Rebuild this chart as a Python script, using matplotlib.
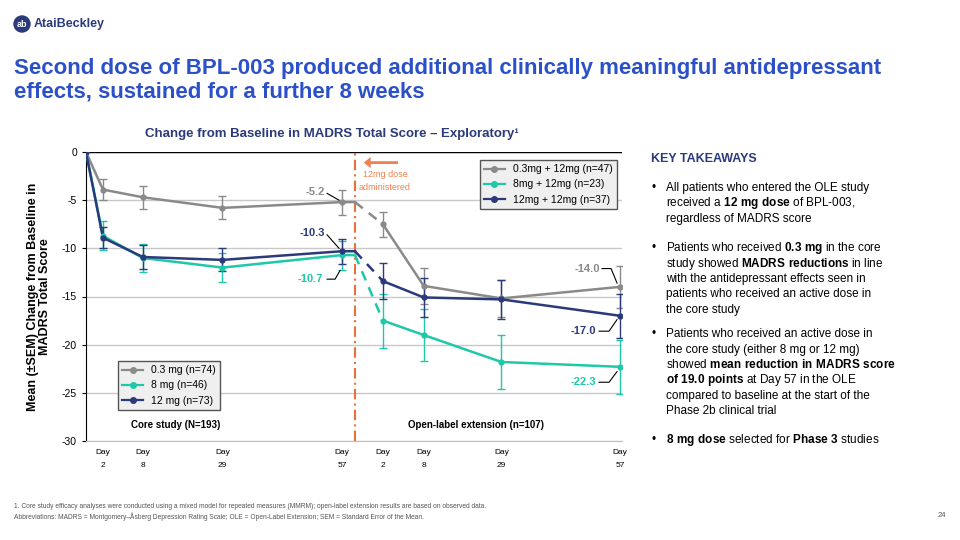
import matplotlib
matplotlib.use("Agg")
import matplotlib.pyplot as plt
from matplotlib.lines import Line2D
from matplotlib.patches import Ellipse

plt.rcParams["font.family"] = ["Liberation Sans", "DejaVu Sans"]
plt.rcParams["axes.unicode_minus"] = False
plt.rcParams["mathtext.fontset"] = "custom"
plt.rcParams["mathtext.rm"] = "Liberation Sans"
plt.rcParams["mathtext.bf"] = "Liberation Sans:bold"

# x positions of visits (core: baseline, D2, D8, D29, D57; OLE: D2, D8, D29, D57)
X_CORE = [86, 103, 143, 223, 343]
X_OLE = [384, 425, 503, 622]
X_SWITCH = 356
TICK_DAYS = ["2", "8", "29", "57", "2", "8", "29", "57"]

GRAY, TEAL, NAVY = "#8a8a8a", "#1ec8a8", "#2b3a7a"

core_03 = [0, -3.9, -4.7, -5.8, -5.2]
core_8 = [0, -8.7, -11.0, -12.0, -10.7]
core_12 = [0, -8.9, -10.9, -11.2, -10.3]
err_core_03 = [0, 1.1, 1.2, 1.2, 1.3]
err_core_8 = [0, 1.5, 1.5, 1.5, 1.5]
err_core_12 = [0, 1.1, 1.2, 1.2, 1.3]

ole_03 = [-7.5, -13.9, -15.2, -14.0]
ole_8 = [-17.5, -19.0, -21.8, -22.3]
ole_12 = [-13.4, -15.1, -15.3, -17.0]
err_ole_03 = [1.3, 1.9, 1.9, 2.2]
err_ole_8 = [2.8, 2.7, 2.8, 2.8]
err_ole_12 = [1.9, 2.0, 2.0, 2.3]

W, H = 960, 540
fig = plt.figure(figsize=(9.6, 5.4), dpi=100)
ax = fig.add_axes([86 / W, (H - 441) / H, (622 - 86) / W, (441 - 152) / H])

for core, ole, ec, eo, col in [(core_03, ole_03, err_core_03, err_ole_03, GRAY),
                               (core_8, ole_8, err_core_8, err_ole_8, TEAL),
                               (core_12, ole_12, err_core_12, err_ole_12, NAVY)]:
    ax.plot(X_CORE + [X_SWITCH], core + [core[-1]], color=col, lw=1.8, zorder=3)
    ax.plot(X_CORE, core, "o", color=col, ms=3.5, zorder=4)
    ax.errorbar(X_CORE[1:], core[1:], yerr=ec[1:], fmt="none", ecolor=col,
                capsize=3, lw=1, zorder=3)
    ax.plot([X_SWITCH, X_OLE[0]], [core[-1], ole[0]], color=col, lw=1.8, ls=(0, (4, 3)), zorder=3)
    ax.plot(X_OLE, ole, "o-", color=col, lw=1.8, ms=3.5, zorder=4)
    ax.errorbar(X_OLE, ole, yerr=eo, fmt="none", ecolor=col, capsize=3, lw=1, zorder=3)

ax.axvline(X_SWITCH, color="#e8703a", ls=(0, (5, 2, 1, 2)), lw=1.5)
ax.annotate("", xy=(362, -1.1), xytext=(402, -1.1),
            arrowprops=dict(arrowstyle="simple,head_width=0.8,head_length=0.5",
                            color="#f08050", lw=0))
ax.text(386, -3.0, "12mg dose\nadministered", color="#f08050", fontsize=6.5,
        ha="center", va="center", linespacing=1.5)

ax.set_xlim(86, 624)
ax.set_ylim(-30, 0)
ax.set_yticks(range(-30, 1, 5))
ax.yaxis.grid(True, color="#c8c8c8", lw=1)
ax.set_axisbelow(True)
for s in ["top", "right"]:
    ax.spines[s].set_visible(False)
ax.spines["bottom"].set_color("#c0c0c0")
ax.tick_params(axis="y", labelsize=7.5, length=3)
ax.set_xticks(X_CORE[1:] + X_OLE)
ax.set_xticklabels(["Day\n" + d for d in TICK_DAYS], fontsize=6, linespacing=2.2)
ax.tick_params(axis="x", length=0, pad=6)
ax.axhline(0, color="black", lw=1)
ax.set_ylabel("Mean (±SEM) Change from Baseline in\nMADRS Total Score", fontsize=9,
              fontweight="bold", labelpad=8, linespacing=1.0)


def lab(txt, col, tx, ty, pts):
    ax.text(tx, ty, txt, color=col, fontsize=8, fontweight="bold", ha="right", va="center")
    ax.plot([p[0] for p in pts], [p[1] for p in pts], color="black", lw=0.8, zorder=5)


lab("-5.2", GRAY, 326, -4.2, [(328, -4.3), (340, -5.0)])
lab("-10.3", NAVY, 326, -8.4, [(328, -8.6), (340, -10.0)])
lab("-10.7", TEAL, 324, -13.2, [(328, -13.2), (336, -13.2), (341, -12.3)])
lab("-14.0", GRAY, 602, -12.1, [(604, -12.1), (613, -12.1), (619, -13.6)])
lab("-17.0", NAVY, 598, -18.6, [(601, -18.6), (611, -18.6), (619, -17.4)])
lab("-22.3", TEAL, 598, -23.9, [(601, -23.9), (611, -23.9), (619, -22.8)])

ax.text(176, -28.3, "Core study (N=193)", fontsize=7, fontweight="bold", ha="center", va="center")
ax.text(477, -28.3, "Open-label extension (n=107)", fontsize=7, fontweight="bold",
        ha="center", va="center")


def handles(labels):
    return [Line2D([0], [0], color=c, marker="o", ms=4, lw=1.6, label=l)
            for c, l in zip([GRAY, TEAL, NAVY], labels)]


leg1 = ax.legend(handles=handles(["0.3 mg (n=74)", "8 mg (n=46)", "12 mg (n=73)"]),
                 loc="lower left", bbox_to_anchor=(0.05, 0.09), fontsize=7.5,
                 fancybox=False, edgecolor="#555555", facecolor="#efefef", framealpha=1)
ax.add_artist(leg1)
ax.legend(handles=handles(["0.3mg + 12mg (n=47)", "8mg + 12mg (n=23)", "12mg + 12mg (n=37)"]),
          loc="upper right", bbox_to_anchor=(1.0, 0.99), fontsize=7.5,
          fancybox=False, edgecolor="#555555", facecolor="#efefef", framealpha=1)

# slide texts
logo = Ellipse((22 / W, 1 - 24 / H), 16 / W, 16 / H, color="#2b3a7a")
logo.set_transform(fig.transFigure)
fig.patches.append(logo)
fig.text(22 / W, 1 - 24.5 / H, "ab", color="white", fontsize=6.5, fontweight="bold",
         ha="center", va="center")
fig.text(34 / W, 1 - 24 / H, "AtaiBeckley", color="#2b3a7a", fontsize=9, fontweight="bold",
         va="center")
fig.text(14 / W, 1 - 80 / H,
         "Second dose of BPL-003 produced additional clinically meaningful antidepressant\n"
         "effects, sustained for a further 8 weeks",
         color="#2b50c8", fontsize=16, fontweight="bold", va="center", linespacing=1.15)
fig.text(332 / W, 1 - 134 / H, "Change from Baseline in MADRS Total Score – Exploratory¹",
         color="#2b3a7a", fontsize=9.5, fontweight="bold", ha="center", va="center")

fig.text(651 / W, 1 - 159 / H, "KEY TAKEAWAYS", color="#2b3a7a", fontsize=9,
         fontweight="bold", va="center")
bullets = [
    (188, ["All patients who entered the OLE study",
           "received a $\\bf{12\\ mg\\ dose}$ of BPL-003,",
           "regardless of MADRS score"]),
    (248, ["Patients who received $\\bf{0.3\\ mg}$ in the core",
           "study showed $\\bf{MADRS\\ reductions}$ in line",
           "with the antidepressant effects seen in",
           "patients who received an active dose in",
           "the core study"]),
    (334, ["Patients who received an active dose in",
           "the core study (either 8 mg or 12 mg)",
           "showed $\\bf{mean\\ reduction\\ in\\ MADRS\\ score}$",
           "$\\bf{of\\ 19.0\\ points}$ at Day 57 in the OLE",
           "compared to baseline at the start of the",
           "Phase 2b clinical trial"]),
    (440, ["$\\bf{8\\ mg\\ dose}$ selected for $\\bf{Phase\\ 3}$ studies"]),
]
for y, lines in bullets:
    fig.text(651 / W, 1 - y / H, "•", fontsize=8.5, va="center")
    for i, t in enumerate(lines):
        fig.text(666 / W, 1 - (y + i * 15.5) / H, t, fontsize=8.5, va="center")

fig.text(14 / W, 1 - 508 / H,
         "1. Core study efficacy analyses were conducted using a mixed model for repeated measures (MMRM); "
         "open-label extension results are based on observed data.", fontsize=4.8, color="#555555")
fig.text(14 / W, 1 - 519 / H,
         "Abbreviations: MADRS = Montgomery–Åsberg Depression Rating Scale; OLE = Open-Label Extension; "
         "SEM = Standard Error of the Mean.", fontsize=4.8, color="#555555")
fig.text(946 / W, 1 - 517 / H, "24", fontsize=5.5, color="#555555", ha="right")

fig.savefig("out.png", dpi=100)
